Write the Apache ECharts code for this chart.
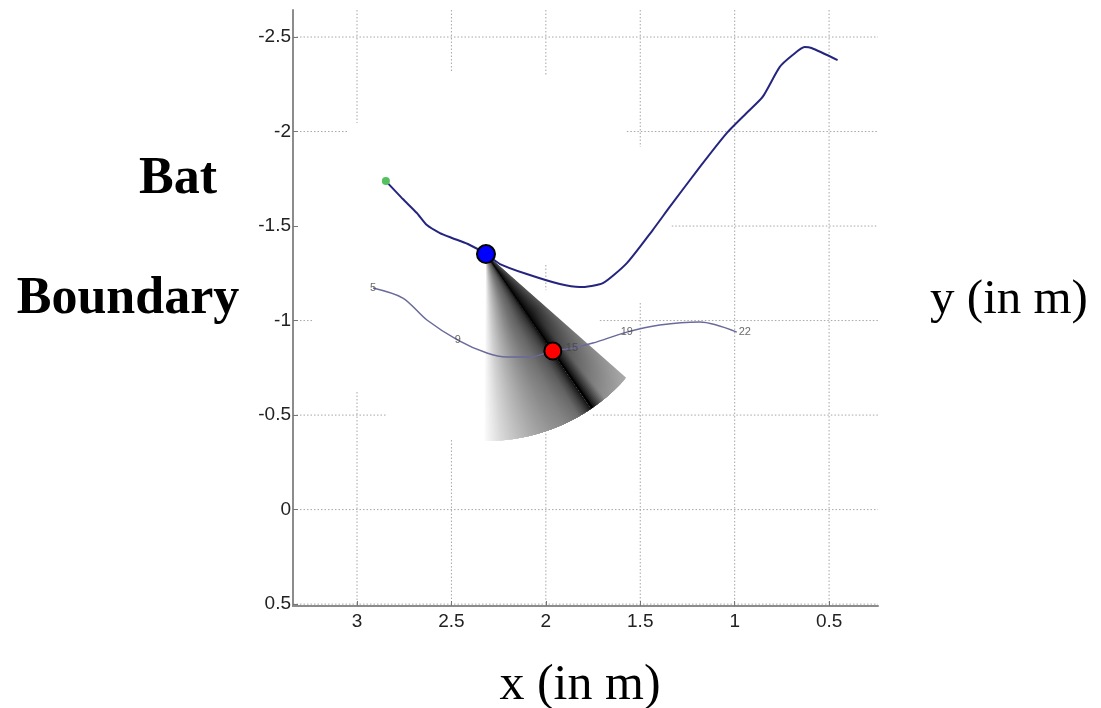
<!DOCTYPE html>
<html>
<head>
<meta charset="utf-8">
<script src="https://cdn.jsdelivr.net/npm/echarts@6/dist/echarts.min.js"></script>
<style>
html, body { margin: 0; padding: 0; background: #fff; }
#main { width: 1101px; height: 708px; }
</style>
</head>
<body>
<div id="main"></div>
<script>
var chart = echarts.init(document.getElementById('main'));

// bat flight path (m)
var batX = [2.847, 2.757, 2.683, 2.630, 2.561, 2.497, 2.413, 2.317, 2.243, 2.101, 1.926, 1.820,
            1.698, 1.571, 1.434, 1.344, 1.185, 1.042, 0.937, 0.852, 0.762, 0.693, 0.630, 0.593, 0.455];
var batY = [-1.738, -1.643, -1.569, -1.505, -1.463, -1.437, -1.405, -1.352, -1.299, -1.246, -1.193, -1.177,
            -1.198, -1.304, -1.479, -1.601, -1.812, -1.992, -2.098, -2.183, -2.341, -2.405, -2.447, -2.442, -2.378];

// boundary curve (m)
var bndX = [2.915, 2.757, 2.630, 2.466, 2.312, 2.206, 2.085, 1.963, 1.862, 1.751, 1.571, 1.397, 1.185, 0.989];
var bndY = [-1.172, -1.119, -1.003, -0.897, -0.828, -0.807, -0.807, -0.839, -0.854, -0.881, -0.939, -0.976, -0.992, -0.939];
var bndLabels = ['5', '9', '15', '19', '22'];
var bndLabelIdx = [0, 3, 8, 10, 13];

// current bat position and the echo point on the boundary
var batNow = [2.317, -1.352];
var echoPt = [1.963, -0.839];
var beamLength = 0.99;          // m
var beamSpread = [-14, 35];     // deg either side of the echo direction

var xTicks = [3, 2.5, 2, 1.5, 1, 0.5];
var yTicks = [-2.5, -2, -1.5, -1, -0.5, 0, 0.5];

// dotted grid pieces that are visible: [x, yFrom, yTo] and [y, xFrom, xTo]
var vGrid = [[3, -2.643, -2.045], [3, -0.622, 0.51],
             [2.5, -2.643, -2.31], [2.5, -0.368, 0.51],
             [2, -2.643, -2.30], [2, -1.294, -1.161], [2, -0.42, 0.51],
             [1.5, -2.643, -1.918], [1.5, -1.093, 0.51],
             [1, -2.643, 0.51], [0.5, -2.643, 0.51]];
var hGrid = [[-2.5, 3.339, 0.241],
             [-2, 3.339, 3.053], [-2, 1.571, 0.241],
             [-1.5, 1.333, 0.241],
             [-1, 3.339, 3.233], [-1, 1.714, 0.241],
             [-0.5, 3.339, 2.841], [-0.5, 1.751, 0.241],
             [0, 3.339, 0.241], [0.5, 3.339, 0.241]];

// grey level across the beam (angle offset deg -> 0..255)
var shadeStops = [[-14, 88], [-10, 62], [-5, 35], [-1, 10], [0, 0], [1, 22], [3, 48], [6, 70],
                  [10, 95], [15, 115], [20, 140], [25, 170], [30, 205], [33, 232], [35, 250]];

function shadeAt(d) {
    for (var i = 1; i < shadeStops.length; i++) {
        if (d <= shadeStops[i][0]) {
            var a = shadeStops[i - 1], b = shadeStops[i];
            var t = (d - a[0]) / (b[0] - a[0]);
            return a[1] + (b[1] - a[1]) * t;
        }
    }
    return 255;
}
function grey(v) {
    v = Math.max(0, Math.min(255, Math.round(v)));
    return 'rgb(' + v + ',' + v + ',' + v + ')';
}

var gridStyle = { stroke: '#a6a6a6', lineWidth: 1, lineDash: [1.5, 2] };

// wedge from angle a to angle b (deg offsets), drawn as apex + arc points
function wedge(p0, r, head, a, b) {
    var rad = Math.PI / 180;
    var pts = [p0];
    var n = Math.max(1, Math.ceil(Math.abs(b - a)));
    for (var i = 0; i <= n; i++) {
        var t = head + (a + (b - a) * i / n) * rad;
        pts.push([p0[0] + r * Math.cos(t), p0[1] + r * Math.sin(t)]);
    }
    return pts;
}

var option = {
    animation: false,
    grid: { left: 293, right: 223, top: 10, bottom: 102 },
    xAxis: {
        type: 'value', inverse: true, min: 0.241, max: 3.339,
        axisLine: { onZero: false, lineStyle: { color: '#8c8c8c', width: 2 } },
        axisTick: { inside: true, length: 5, customValues: xTicks, lineStyle: { color: '#777' } },
        axisLabel: {
            customValues: xTicks, color: '#222', fontSize: 19, fontFamily: 'Liberation Sans', margin: 6,
            formatter: function (v) { return String(+(+v).toFixed(2)); }
        },
        splitLine: { show: false }
    },
    yAxis: {
        type: 'value', inverse: true, min: -2.643, max: 0.51,
        axisLine: { onZero: false, lineStyle: { color: '#8c8c8c', width: 2 } },
        axisTick: { inside: true, length: 5, customValues: yTicks, lineStyle: { color: '#777' } },
        axisLabel: {
            customValues: yTicks, color: '#222', fontSize: 19, fontFamily: 'Liberation Sans', margin: 2,
            formatter: function (v) { return String(+(+v).toFixed(2)); }
        },
        splitLine: { show: false }
    },
    graphic: [
        { type: 'text', x: 178, y: 180, style: { text: 'Bat', font: 'bold 52px "Liberation Serif"', fill: '#000', textAlign: 'center', textVerticalAlign: 'middle' } },
        { type: 'text', x: 128, y: 300, style: { text: 'Boundary', font: 'bold 52px "Liberation Serif"', fill: '#000', textAlign: 'center', textVerticalAlign: 'middle' } },
        { type: 'text', x: 1009, y: 300, style: { text: 'y (in m)', font: '49px "Liberation Serif"', fill: '#000', textAlign: 'center', textVerticalAlign: 'middle' } },
        { type: 'text', x: 580, y: 686, style: { text: 'x (in m)', font: '50px "Liberation Serif"', fill: '#000', textAlign: 'center', textVerticalAlign: 'middle' } }
    ],
    series: [
        {
            type: 'custom', silent: true, z: 0,
            data: vGrid, encode: { x: 0, y: [1, 2] },
            renderItem: function (params, api) {
                var a = api.coord([api.value(0), api.value(1)]);
                var b = api.coord([api.value(0), api.value(2)]);
                return { type: 'line', shape: { x1: a[0], y1: a[1], x2: b[0], y2: b[1] }, style: gridStyle };
            }
        },
        {
            type: 'custom', silent: true, z: 0,
            data: hGrid, encode: { y: 0, x: [1, 2] },
            renderItem: function (params, api) {
                var a = api.coord([api.value(1), api.value(0)]);
                var b = api.coord([api.value(2), api.value(0)]);
                return { type: 'line', shape: { x1: a[0], y1: a[1], x2: b[0], y2: b[1] }, style: gridStyle };
            }
        },
        {
            // sonar beam from the bat towards the echo point
            type: 'custom', silent: true, z: 1,
            data: [[batNow[0], batNow[1], echoPt[0], echoPt[1]]],
            encode: { x: [0, 2], y: [1, 3] },
            renderItem: function (params, api) {
                var p0 = api.coord([api.value(0), api.value(1)]);
                var p1 = api.coord([api.value(2), api.value(3)]);
                var head = Math.atan2(p1[1] - p0[1], p1[0] - p0[0]);
                var r = Math.abs(api.size([beamLength, 0])[0]);
                var rad = Math.PI / 180;
                var step = 0.5;
                var kids = [];
                // outer slivers first, each wedge reaching in to the centre line,
                // so the next one covers it without seams
                function add(from, to, mid) {
                    var g0 = shadeAt(mid);
                    var off = Math.abs(mid);
                    var fade = (mid < 0 ? 0.5 : 0.25) * Math.min(off / 5, 1);
                    var g1 = g0 + (255 - g0) * fade;
                    var am = head + mid * rad;
                    var ex = p0[0] + r * Math.cos(am), ey = p0[1] + r * Math.sin(am);
                    kids.push({
                        type: 'polygon',
                        shape: { points: wedge(p0, r, head, from, to) },
                        style: {
                            fill: new echarts.graphic.LinearGradient(p0[0], p0[1], ex, ey, [
                                { offset: 0, color: grey(g0) },
                                { offset: 0.4, color: grey(g0) },
                                { offset: 1, color: grey(g1) }
                            ], true)
                        }
                    });
                }
                for (var d = beamSpread[1]; d > 0; d -= step) add(d, -0.3, d - step / 2);
                for (var e = beamSpread[0]; e < 0; e += step) add(e, 0.3, e + step / 2);
                add(-0.35, 0.35, 0);
                return { type: 'group', children: kids };
            }
        },
        {
            type: 'line', z: 2, symbol: 'none', smooth: 0.3,
            data: bndX.map(function (x, i) { return [x, bndY[i]]; }),
            lineStyle: { color: '#6a6a9c', width: 1.5 }
        },
        {
            type: 'line', z: 2, symbol: 'none', smooth: 0.2,
            data: batX.map(function (x, i) { return [x, batY[i]]; }),
            lineStyle: { color: '#25257f', width: 2 }
        },
        {
            type: 'scatter', z: 3, symbolSize: 1, silent: true,
            itemStyle: { color: 'rgba(0,0,0,0)' },
            data: bndLabelIdx.map(function (k, i) {
                return { value: [bndX[k], bndY[k]], name: bndLabels[i], label: i === bndLabels.length - 1 ? { offset: [8, 0] } : {} };
            }),
            label: { show: true, position: 'inside', formatter: '{b}', color: '#444', fontSize: 11, fontFamily: 'Liberation Sans' }
        },
        {
            type: 'scatter', z: 4, symbolSize: 8,
            data: [[batX[0], batY[0]]],
            itemStyle: { color: '#55c060', opacity: 1 }
        },
        {
            type: 'scatter', z: 5, symbolSize: 18,
            data: [batNow],
            itemStyle: { color: '#0000ff', borderColor: '#000', borderWidth: 2, opacity: 1 }
        },
        {
            type: 'scatter', z: 5, symbolSize: 17,
            data: [echoPt],
            itemStyle: { color: '#ff0000', borderColor: '#000', borderWidth: 2, opacity: 1 }
        }
    ]
};
chart.setOption(option);
</script>
</body>
</html>
